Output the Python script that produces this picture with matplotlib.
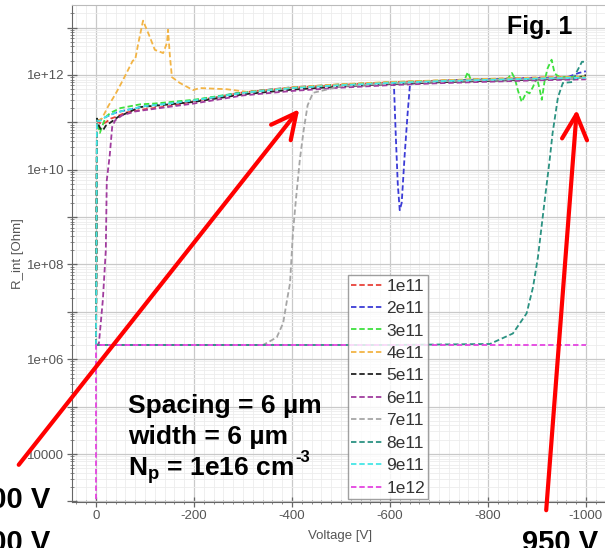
import numpy as np
import matplotlib
matplotlib.use('Agg')
import matplotlib.pyplot as plt
from matplotlib.ticker import LogLocator, MultipleLocator, NullFormatter
from matplotlib.patches import FancyArrowPatch

plt.rcParams['font.family'] = ['Liberation Sans', 'DejaVu Sans']
plt.rcParams['axes.unicode_minus'] = False
plt.rcParams['mathtext.fontset'] = 'custom'
plt.rcParams['mathtext.bf'] = 'Liberation Sans:bold'
plt.rcParams['mathtext.rm'] = 'Liberation Sans:bold'

# Daten (Spannung [V], R_int [Ohm])
v_band = [0, -2, -5, -10, -15, -20, -30, -40, -60, -100, -150, -200, -300,
          -400, -500, -600, -700, -800, -900, -1000]

r_1e11 = [2e6, 1.1e11, 1.0e11, 9.5e10, 9.5e10, 1.0e11, 1.2e11, 1.3e11, 1.6e11,
          1.9e11, 2.2e11, 2.8e11, 4.3e11, 5.4e11, 6.2e11, 7.0e11, 7.6e11,
          8.2e11, 8.8e11, 9.3e11]

v_2e11 = [0, -2, -5, -10, -20, -40, -60, -100, -150, -200, -300, -400, -500,
          -600, -608, -612, -616, -620, -624, -630, -636, -641, -700, -800,
          -900, -960, -985, -1000]
r_2e11 = [2e6, 1.1e11, 1.1e11, 1.15e11, 1.3e11, 1.6e11, 1.8e11, 2.2e11, 2.5e11,
          2.9e11, 4.3e11, 5.5e11, 6.3e11, 6.9e11, 6.9e11, 5e10, 5e9, 1.4e9,
          2e9, 2e10, 1.5e11, 6.5e11, 7.5e11, 8.1e11, 8.6e11, 8.8e11, 1.1e12,
          1.2e12]

v_3e11 = [0, -2, -5, -8, -12, -20, -30, -50, -90, -120, -200, -300, -400,
          -500, -600, -700, -752, -759, -765, -800, -840, -849, -855, -861,
          -869, -879, -885, -892, -900, -906, -910, -916, -922, -930, -936,
          -940, -947, -1000]
r_3e11 = [2e6, 1.2e11, 8e10, 6e10, 8e10, 1.3e11, 1.6e11, 2.0e11, 2.4e11, 2.5e11,
          3.0e11, 4.3e11, 5.4e11, 6.3e11, 7.0e11, 7.6e11, 7.8e11, 1.15e12,
          8e11, 8.1e11, 8.3e11, 1.1e12, 8.4e11, 4.8e11, 2.7e11, 4.4e11, 4.1e11,
          5.6e11, 8.7e11, 4.8e11, 3e11, 7.8e11, 1.4e12, 2.1e12, 1.1e12, 1e12,
          9e11, 9.3e11]

v_4e11 = [0, -2, -5, -12, -25, -40, -55, -65, -75, -80, -86, -96, -110, -120,
          -137, -145, -147, -151, -155, -171, -198, -212, -267, -308, -350,
          -400, -500, -600, -700, -800, -900, -1000]
r_4e11 = [2e6, 1.0e11, 1.1e11, 1.2e11, 2.2e11, 4e11, 7.8e11, 1.25e12, 2e12,
          2.1e12, 4.5e12, 1.4e13, 6.3e12, 3.4e12, 2.9e12, 4.8e12, 9e12, 2.4e12,
          9e11, 6.8e11, 4.8e11, 5.3e11, 5e11, 4.4e11, 4.8e11, 5.5e11, 6.4e11,
          7.1e11, 7.7e11, 8.3e11, 8.8e11, 9.2e11]

v_5e11 = [0, -2, -5, -10, -15, -20, -30, -45, -90, -150, -200, -300, -400,
          -500, -600, -700, -800, -900, -985, -1000]
r_5e11 = [2e6, 1.2e11, 9e10, 7e10, 7e10, 8.5e10, 1.0e11, 1.3e11, 2.1e11, 2.4e11,
          2.7e11, 3.9e11, 4.9e11, 5.7e11, 6.4e11, 7.0e11, 7.5e11, 8.0e11,
          8.5e11, 1.0e12]

v_6e11 = [0, -3, -6, -14, -20, -22, -28, -33, -39, -53, -80, -130, -200, -300,
          -400, -500, -600, -700, -800, -900, -1000]
r_6e11 = [2e6, 2e6, 2.2e6, 1.8e7, 2e8, 6e9, 2e10, 8e10, 1.1e11, 1.4e11, 1.7e11,
          2.0e11, 2.5e11, 3.7e11, 4.6e11, 5.4e11, 6.1e11, 6.7e11, 7.2e11,
          7.7e11, 8.1e11]

v_7e11 = [0, -100, -200, -300, -341, -355, -369, -382, -390, -396, -402, -408,
          -416, -424, -432, -443, -500, -600, -700, -800, -900, -1000]
r_7e11 = [2e6, 2e6, 2e6, 2e6, 2e6, 2.4e6, 2.9e6, 5.8e6, 1.8e7, 4e7, 4.7e8, 2.3e9,
          1.6e10, 7e10, 2.3e11, 4.2e11, 5.8e11, 6.6e11, 7.3e11, 7.8e11, 8.3e11,
          8.7e11]

v_8e11 = [0, -200, -400, -600, -804, -851, -879, -892, -902, -916, -926, -932,
          -943, -953, -973, -981, -992, -1002]
r_8e11 = [2e6, 2e6, 2e6, 2e6, 2.1e6, 3.5e6, 9.3e6, 3.3e7, 1.4e8, 2.3e9, 1.6e10,
          5.9e10, 3.4e11, 6.8e11, 7.1e11, 1.15e12, 1.9e12, 1.9e12]

r_9e11 = [2e6, 1.1e11, 1.05e11, 1.1e11, 1.2e11, 1.3e11, 1.45e11, 1.6e11, 1.8e11,
          2.2e11, 2.5e11, 2.9e11, 4.2e11, 5.3e11, 6.1e11, 6.8e11, 7.4e11,
          7.9e11, 8.4e11, 8.8e11]

v_1e12 = [0, 0, -1000]
r_1e12 = [1e2, 2e6, 2e6]

serien = [
    ('1e11', v_band, r_1e11, '#e8423a'),
    ('2e11', v_2e11, r_2e11, '#3b3bd6'),
    ('3e11', v_3e11, r_3e11, '#3ee03e'),
    ('4e11', v_4e11, r_4e11, '#f2b445'),
    ('5e11', v_5e11, r_5e11, '#222222'),
    ('6e11', v_6e11, r_6e11, '#a03c9e'),
    ('7e11', v_7e11, r_7e11, '#a6a6a6'),
    ('8e11', v_8e11, r_8e11, '#2b9282'),
    ('9e11', v_band, r_9e11, '#45e6e6'),
    ('1e12', v_1e12, r_1e12, '#e444e0'),
]

xticks = [0, -200, -400, -600, -800, -1000]
xlabels = ['0', '-200', '-400', '-600', '-800', '-1000']
yticks = [1e3, 1e4, 1e5, 1e6, 1e7, 1e8, 1e9, 1e10, 1e11, 1e12, 1e13]
ylabels = ['', '10000', '', '1e+06', '', '1e+08', '', '1e+10', '', '1e+12', '']

W, H = 605, 548
fig = plt.figure(figsize=(W / 100, H / 100), dpi=100)
ax = fig.add_axes([72 / W, 1 - 502 / H, (W - 72) / W, (502 - 5) / H])

for nome, v, r, cor in serien:
    ax.plot(v, r, ls=(0, (3, 1.6)), lw=1.3, color=cor, label=nome)

ax.set_yscale('log')
ax.set_xlim(49, -1039)
ax.set_ylim(10 ** 2.987, 10 ** 13.477)

ax.set_xticks(xticks, labels=xlabels)
ax.xaxis.set_minor_locator(MultipleLocator(20))
ax.set_yticks(yticks, labels=ylabels)
ax.yaxis.set_minor_locator(LogLocator(base=10, subs=np.arange(2, 10), numticks=100))
ax.yaxis.set_minor_formatter(NullFormatter())

ax.grid(True, which='major', color='#c9c9c9', lw=0.9)
ax.grid(True, which='minor', color='#ececec', lw=0.6)
ax.set_axisbelow(True)

ax.tick_params(which='major', direction='inout', length=7, width=0.9,
               color='#666666', labelsize=9.5, labelcolor='#555555', pad=2)
ax.tick_params(which='minor', direction='inout', length=3.5, width=0.6,
               color='#777777')
for lado in ['left', 'bottom']:
    ax.spines[lado].set_color('#666666')
ax.spines['top'].set_color('#bbbbbb')
ax.spines['right'].set_visible(False)

ax.set_xlabel('Voltage [V]', fontsize=9.5, color='#555555')
ax.set_ylabel('R_int [Ohm]', fontsize=9.5, color='#555555')
ax.xaxis.set_label_coords((340 - 72) / 533, -28 / 497)
ax.yaxis.set_label_coords((24 - 72) / 533, 0.5)

leg = ax.legend(loc='upper left', bbox_to_anchor=(348 / W, 1 - 275 / H),
                bbox_transform=fig.transFigure, fontsize=12.5, frameon=True,
                fancybox=False, borderpad=0.2, labelspacing=0.42,
                handlelength=1.9, handletextpad=0.1, borderaxespad=0)
leg.get_frame().set_edgecolor('#888888')
leg.get_frame().set_linewidth(1.0)
for t in leg.get_texts():
    t.set_color('#333333')

# Beschriftungen (Folie)
def px(x, y):
    return (x / W, 1 - y / H)

fig.text(*px(507, 34), 'Fig. 1', fontsize=18, fontweight='bold',
         ha='left', va='baseline')
fig.text(*px(128, 413), 'Spacing = 6 µm', fontsize=19, fontweight='bold',
         ha='left', va='baseline')
fig.text(*px(128, 444), 'width = 6 µm', fontsize=19, fontweight='bold',
         ha='left', va='baseline')
t_np = fig.text(*px(128, 475), r'N$_{\mathbf{p}}$ = 1e16 cm',
                fontsize=19, fontweight='bold', ha='left', va='baseline')
ax.annotate('-3', xy=(1, 1), xycoords=t_np, xytext=(1, 3),
            textcoords='offset points', fontsize=12, fontweight='bold',
            ha='left', va='top', annotation_clip=False)
fig.text(*px(50, 508), '400 V', fontsize=21, fontweight='bold',
         ha='right', va='baseline')
fig.text(*px(50, 551), '300 V', fontsize=21, fontweight='bold',
         ha='right', va='baseline')
fig.text(*px(522, 551), '950 V', fontsize=21, fontweight='bold',
         ha='left', va='baseline')

for (x0, y0), (x1, y1) in [((17, 467), (301, 107)), ((546, 513), (577, 107))]:
    seta = FancyArrowPatch(px(x0, y0), px(x1, y1), transform=fig.transFigure,
                           arrowstyle='->,head_length=0.9,head_width=0.45',
                           mutation_scale=20, color='#ff0000', lw=3)
    fig.add_artist(seta)

fig.savefig('out.png', dpi=100)
